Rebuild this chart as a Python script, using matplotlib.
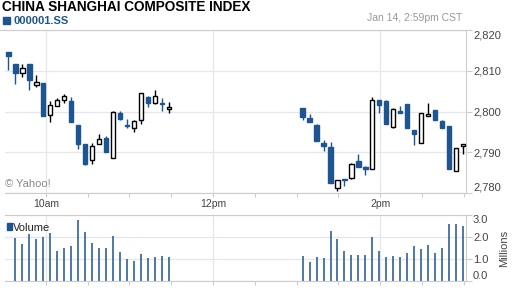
"""
Shanghai Composite intraday candles + volume (Yahoo style).
Saves: out.png
"""
import numpy as np
import matplotlib
matplotlib.use("Agg")
import matplotlib.pyplot as plt
from matplotlib.lines import Line2D
from matplotlib.patches import Rectangle

plt.rcParams["font.family"] = ["Liberation Sans", "DejaVu Sans"]

BLUE = "#1c5590"
GRID = "#e6e6ee"
EDGE = "#cccccc"
TXT  = "#444444"

# 5-min bars, morning session then afternoon session (minutes since midnight)
am_start, pm_start, n_am, n_pm = 573.3, 784.3, 24, 24

opens  = [2814.6, 2811.6, 2809.5, 2811.6, 2806.6, 2807.1, 2799.2, 2801.4, 2802.7, 2802.6, 2796.8, 2792.1,
          2788.0, 2792.1, 2793.4, 2788.6, 2799.7, 2796.6, 2796.0, 2797.8, 2803.5, 2802.2, 2802.0, 2800.6,
          2800.8, 2798.3, 2796.8, 2792.2, 2791.4, 2781.2, 2783.3, 2783.7, 2787.9, 2786.5, 2785.9, 2802.8,
          2802.5, 2796.2, 2800.0, 2801.8, 2795.4, 2792.3, 2799.0, 2800.3, 2797.6, 2796.4, 2785.4, 2791.5]
highs  = [2814.6, 2811.6, 2811.6, 2811.6, 2808.9, 2807.1, 2802.6, 2803.4, 2804.2, 2803.6, 2796.8, 2792.1,
          2792.3, 2794.4, 2794.1, 2800.2, 2800.2, 2798.2, 2798.0, 2804.6, 2803.7, 2805.2, 2803.2, 2802.3,
          2800.8, 2799.3, 2797.0, 2792.9, 2792.4, 2783.2, 2783.5, 2787.4, 2789.6, 2786.7, 2803.5, 2802.8,
          2802.7, 2800.9, 2801.4, 2801.8, 2795.4, 2799.7, 2802.0, 2800.3, 2797.8, 2796.4, 2791.1, 2792.1]
lows   = [2810.2, 2806.8, 2808.5, 2805.3, 2806.0, 2798.9, 2797.4, 2801.4, 2802.2, 2797.4, 2790.8, 2786.8,
          2787.2, 2792.1, 2790.0, 2788.6, 2797.8, 2795.9, 2795.0, 2796.9, 2801.2, 2801.9, 2800.1, 2799.6,
          2797.8, 2797.4, 2792.7, 2790.3, 2782.4, 2780.4, 2781.7, 2783.5, 2786.3, 2784.5, 2785.9, 2799.6,
          2796.9, 2796.0, 2799.6, 2795.9, 2791.8, 2792.3, 2799.0, 2798.0, 2796.0, 2785.8, 2785.4, 2789.6]
closes = [2813.7, 2809.5, 2810.6, 2807.8, 2807.2, 2798.9, 2801.7, 2802.7, 2803.7, 2797.4, 2792.0, 2787.0,
          2791.6, 2793.3, 2790.0, 2799.9, 2798.2, 2796.4, 2797.6, 2804.6, 2802.2, 2803.9, 2801.9, 2801.2,
          2798.7, 2797.4, 2792.7, 2791.5, 2782.4, 2783.2, 2783.2, 2787.2, 2786.3, 2785.8, 2802.9, 2801.6,
          2796.9, 2800.7, 2799.6, 2795.9, 2794.5, 2799.7, 2799.5, 2798.0, 2796.0, 2785.8, 2791.1, 2792.1]
volumes = [0.00, 1.95, 1.66, 2.12, 1.89, 1.98, 2.17, 1.38, 1.48, 1.57, 2.77, 2.22,
           1.71, 1.48, 1.52, 2.03, 1.34, 1.02, 0.92, 1.25, 1.06, 1.11, 1.15, 1.11,
           1.14, 0.86, 1.09, 1.05, 2.27, 1.92, 1.36, 1.18, 1.18, 1.18, 2.00, 1.36,
           1.09, 1.14, 1.09, 1.27, 1.59, 1.45, 1.64, 1.27, 1.50, 2.59, 2.59, 2.50]

price_ticks = [2780, 2790, 2800, 2810, 2820]
vol_ticks   = [0, 1, 2, 3]
hour_ticks  = [600, 720, 840]
hour_labels = ["10am", "12pm", "2pm"]

times = np.concatenate([am_start + 5*np.arange(n_am), pm_start + 5*np.arange(n_pm)])
XLIM  = (570.8, 901.5)

def style_axes(ax):
    ax.set_xlim(*XLIM)
    ax.spines["left"].set_visible(False)
    for s in ["top", "bottom", "right"]: ax.spines[s].set_color(EDGE)
    ax.yaxis.tick_right()
    ax.tick_params(axis="y", colors=EDGE, labelcolor=TXT, length=4, width=0.8, labelsize=8, pad=1)
    ax.set_xticks(hour_ticks)
    ax.set_xticks(np.arange(600, 901, 30), minor=True)
    ax.tick_params(axis="x", which="both", colors=EDGE, length=3, width=0.8)
    ax.grid(True, color=GRID, lw=0.9)
    ax.set_axisbelow(True)

def px_box(x, y, w, hgt):
    # small legend square, given in picture pixels from the top-left
    fig.add_artist(Rectangle((x/512, 1 - (y + hgt)/288), w/512, hgt/288,
                             color=BLUE, transform=fig.transFigure))

def px_text(x, base, s, **kw):
    # text placed by its baseline, in picture pixels from the top-left
    fig.text(x/512, 1 - base/288, s, va="baseline", **kw)

fig = plt.figure(figsize=(5.12, 2.88), dpi=100)
ax  = fig.add_axes([5/512, 95/288, 461/512, 163/288])
axv = fig.add_axes([5/512, 7/288, 461/512, 66/288])

# candles
style_axes(ax)
ax.set_ylim(2780, 2820)
o, h, l, c = map(np.array, (opens, highs, lows, closes))
down = c < o
cols = np.where(down, BLUE, "black")
ax.vlines(times, l, h, colors=cols, lw=1, zorder=2)
body = np.maximum(np.abs(c - o), 0.15)
ax.bar(times, body, bottom=np.minimum(o, c), width=3.1,
       color=np.where(down, BLUE, "white"), edgecolor=cols, lw=1, zorder=3, clip_on=False)
ax.set_yticks(price_ticks)
ax.set_yticklabels([f"{v:,}" for v in price_ticks])
lbls = ax.get_yticklabels()
lbls[0].set_va("bottom"); lbls[-1].set_va("top")
ax.set_xticklabels(hour_labels, fontsize=7.5, color=TXT)
ax.tick_params(axis="x", pad=1.5)
ax.text(0.0, 0.035, "© Yahoo!", transform=ax.transAxes, fontsize=8, color="#888888")

# volume
style_axes(axv)
axv.set_ylim(0, 3)
axv.vlines(times, 0, volumes, colors=BLUE, lw=1.1)
axv.set_yticks(vol_ticks)
axv.set_yticklabels([f"{v:.1f}" for v in vol_ticks])
vl = axv.get_yticklabels()
vl[0].set_va("bottom"); vl[-1].set_va("top")
axv.set_xticklabels([])
axv.set_ylabel("Millions", fontsize=8, color=TXT, rotation=90, labelpad=8)
axv.yaxis.set_label_position("right")
px_box(7, 223, 5, 7)
px_text(13, 231, "Volume", fontsize=8, color="#222222")

# header
fig.add_artist(Line2D([0, 5/512], [258.5/288]*2, color=EDGE, lw=0.8))
px_text(2, 11, "CHINA SHANGHAI COMPOSITE INDEX", fontsize=9.8, fontweight="bold", color="black")
px_box(3, 17, 7, 7)
px_text(13, 24.5, "000001.SS", fontsize=8, fontweight="bold", color=BLUE)
px_text(462, 21, "Jan 14, 2:59pm CST", fontsize=7.5, color="#999999", ha="right")

fig.savefig("out.png", dpi=100)
